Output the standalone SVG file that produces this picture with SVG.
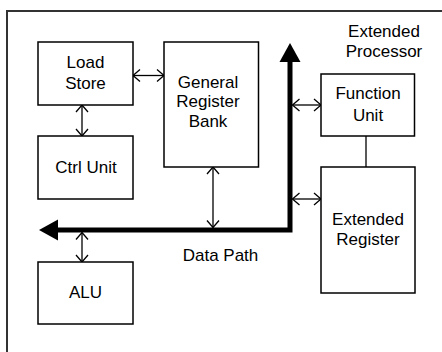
<svg xmlns="http://www.w3.org/2000/svg" width="442" height="352" viewBox="0 0 442 352">
<style>
.box{fill:#fff;stroke:#000;stroke-width:1.5}
.t{font-family:"Liberation Sans",Arial,sans-serif;font-size:17px;fill:#000;text-anchor:middle}
.c{fill:none;stroke:#000;stroke-width:1.3}
.bus{fill:none;stroke:#000;stroke-width:5}
</style>
<defs>
<marker id="ah" markerUnits="userSpaceOnUse" markerWidth="12" markerHeight="16" viewBox="-10 -8 12 16" refX="0" refY="0" orient="auto-start-reverse">
<path d="M-7,-6 L0,0 L-7,6" fill="none" stroke="#000" stroke-width="1.3"/>
</marker>
<marker id="big" markerUnits="userSpaceOnUse" markerWidth="22" markerHeight="24" viewBox="-1 -12 22 24" refX="0" refY="0" orient="auto-start-reverse">
<path d="M0,-10.5 L19,0 L0,10.5 Z" fill="#000"/>
</marker>
</defs>
<rect width="442" height="352" fill="#fff"/>
<path d="M7,352 V11 H442" fill="none" stroke="#333" stroke-width="2"/>
<g id="connectors">
<path class="bus" d="M58,230 H290 V62" marker-start="url(#big)" marker-end="url(#big)"/>
<line class="c" x1="133" y1="75.5" x2="164" y2="75.5" marker-start="url(#ah)" marker-end="url(#ah)"/>
<line class="c" x1="82" y1="105" x2="82" y2="136" marker-start="url(#ah)" marker-end="url(#ah)"/>
<line class="c" x1="213" y1="167" x2="213" y2="227.5" marker-start="url(#ah)" marker-end="url(#ah)"/>
<line class="c" x1="82" y1="232.5" x2="82" y2="262" marker-start="url(#ah)" marker-end="url(#ah)"/>
<line class="c" x1="292.5" y1="105" x2="321" y2="105" marker-start="url(#ah)" marker-end="url(#ah)"/>
<line class="c" x1="292.5" y1="199" x2="321" y2="199" marker-start="url(#ah)" marker-end="url(#ah)"/>
<line class="c" x1="366" y1="136" x2="366" y2="167"/>
</g>
<g id="load-store"><rect class="box" x="38" y="42" width="95" height="63"/><text class="t" x="85.5" y="68">Load</text><text class="t" x="85.5" y="89">Store</text></g>
<g id="ctrl-unit"><rect class="box" x="38" y="136" width="95" height="63"/><text class="t" x="86" y="173">Ctrl Unit</text></g>
<g id="general-register-bank"><rect class="box" x="164" y="42" width="94.5" height="125"/><text class="t" x="208" y="88">General</text><text class="t" x="208" y="107">Register</text><text class="t" x="208" y="127">Bank</text></g>
<g id="alu"><rect class="box" x="38" y="262" width="95" height="62"/><text class="t" x="85.5" y="298">ALU</text></g>
<g id="extended-processor-label"><text class="t" x="384" y="37">Extended</text><text class="t" x="384" y="57">Processor</text></g>
<g id="function-unit"><rect class="box" x="321" y="74" width="93.5" height="62"/><text class="t" x="368" y="99">Function</text><text class="t" x="368" y="120.5">Unit</text></g>
<g id="extended-register"><rect class="box" x="321" y="167" width="94" height="126"/><text class="t" x="368" y="225">Extended</text><text class="t" x="368" y="245">Register</text></g>
<g id="data-path-label"><text class="t" x="220.5" y="261">Data Path</text></g>
</svg>
